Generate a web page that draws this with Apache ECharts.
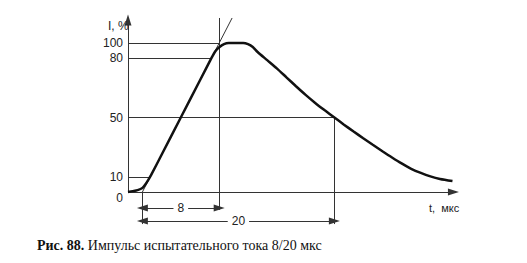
<!DOCTYPE html>
<html><head><meta charset="utf-8">
<script src="https://cdn.jsdelivr.net/npm/echarts@6/dist/echarts.min.js"></script>
<style>html,body{margin:0;padding:0;background:#fff}#c{width:527px;height:263px}</style>
</head><body><div id="c"></div>
<script>
// ---- data ----
const curveT = [-1.5,-1.0,-0.5,0,0.3,0.6,0.9,2,4,6,7.2,7.6,8,8.5,9,10.5,11,11.5,12,13,14,15,16,17,18,19,20,21,22,23,24,25,26,27,28,29,30,31,32.3];
const curveI = [0,0.6,1.3,2.7,5,8,11.3,25,50,75,90,94.5,97.2,99.3,100,100,99.2,97.3,94,88.5,83,77,71,65.2,59.8,54.8,50,45.2,40.6,36.1,31.7,27.4,23.2,19.2,15.6,12.8,10.5,8.8,7.4];
const yTickValues = [0,10,50,90,100];
const yTickLabels = ['0','10','50','80','100'];
const frontTime = 8;      // µs
const halfTime = 20;      // µs
const frontLabel = '8';
const halfLabel = '20';
const xStart = -1.5, xEnd = 32.4;   // axis extent (µs)
const yTop = 115.4, guideTop = 116.8; // axis arrow / guide tops (%)
const dimFront = -10.7, dimHalf = -19.5, dimBottom = -21.5, frontBottom = -12;

const curve = curveT.map((t,i)=>[t,curveI[i]]);
function riseTime(level){
  for(let i=1;i<curveT.length;i++){
    if(curveI[i]>=level){const a=curveI[i-1],b=curveI[i];
      return curveT[i-1]+(level-a)/(b-a)*(curveT[i]-curveT[i-1]);}
  }
}
const slope = 100/frontTime;

const tri = 'triangle';
function seg(p1,p2,s1,s2,label){
  const a={coord:p1,symbol:s1||'none',symbolSize:[7,11]};
  const b={coord:p2,symbol:s2||'none',symbolSize:[7,11]};
  if(label){a.label={show:true,position:'middle',formatter:label,distance:0,verticalAlign:'middle',
    backgroundColor:'#fff',padding:[0,4],color:'#222',fontSize:12,fontFamily:'Liberation Sans'};}
  return [a,b];
}
const lines = [
  seg([xStart,0],[xEnd,0],'none',tri),                 // x axis
  seg([xStart,0],[xStart,yTop],'none',tri),            // y axis
  seg([xStart,100],[frontTime,100]),
  seg([xStart,90],[riseTime(90),90]),
  seg([xStart,50],[halfTime,50]),
  seg([xStart,10],[riseTime(10),10]),
  seg([0,0],[guideTop/slope,guideTop]),                // front tangent
  seg([frontTime,frontBottom],[frontTime,guideTop]),
  seg([0,0],[0,dimBottom]),
  seg([halfTime,50],[halfTime,dimBottom]),
  seg([0,dimFront],[frontTime,dimFront],tri,tri,frontLabel),
  seg([0,dimHalf],[halfTime,dimHalf],tri,tri,halfLabel)
];

const chart = echarts.init(document.getElementById('c'), null, {renderer:'svg'});
chart.setOption({
  animation:false,
  backgroundColor:'#fff',
  grid:{left:128, top:16.2, width:340.8, height:213.07},
  title:[
    {text:'I, %', left:103, top:15, textStyle:{fontSize:12,fontWeight:'normal',color:'#222',fontFamily:'Liberation Sans'}},
    {text:'t,  мкс', left:424, top:197, textStyle:{fontSize:11,fontWeight:'normal',color:'#222',fontFamily:'Liberation Sans'}},
    {text:'{b|Рис. 88.} {n|Импульс испытательного тока 8/20 мкс}', left:32, top:233,
      textStyle:{fontWeight:'normal',fontSize:14,fontFamily:'Liberation Serif',color:'#111',
        rich:{b:{fontSize:14,fontWeight:'bold',fontFamily:'Liberation Serif',color:'#111'},
              n:{fontSize:14,fontWeight:'normal',fontFamily:'Liberation Serif',color:'#111'}}}}
  ],
  xAxis:{type:'value', min:-1.5, max:34, show:false},
  yAxis:{type:'value', min:-25, max:118,
    axisLine:{show:false}, axisTick:{show:false}, splitLine:{show:false},
    axisLabel:{customValues:yTickValues, margin:5, color:'#222', fontSize:12, fontFamily:'Liberation Sans',
      formatter:(v)=>{const s=yTickLabels[yTickValues.indexOf(v)]; return v===0?'{z|'+s+'}':s;},
      rich:{z:{padding:[12,0,0,0],fontSize:12,color:'#222',fontFamily:'Liberation Sans'}}}},
  series:[
    {type:'line', data:[], silent:true,
      markLine:{silent:true, animation:false, symbol:['none','none'],
        lineStyle:{color:'#333',width:1,type:'solid'}, label:{show:false}, emphasis:{disabled:true},
        data:lines}},
    {type:'line', data:curve, showSymbol:false, smooth:0.25, z:5, silent:true,
      lineStyle:{color:'#111',width:2.5}}
  ]
});
</script></body></html>
